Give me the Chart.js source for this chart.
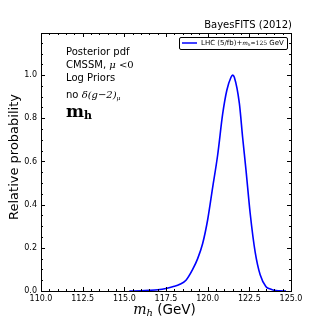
<!DOCTYPE html>
<html>
<head>
<meta charset="utf-8">
<script src="https://cdn.jsdelivr.net/npm/chart.js@4"></script>
<style>
  html, body { margin: 0; padding: 0; background: #fff; }
  #wrap { width: 324px; height: 324px; }
</style>
</head>
<body>
<div id="wrap"><canvas id="chart" width="324" height="324"></canvas></div>
<script>
// values
const massValues = [115.3, 116.0, 116.5, 117.0, 117.5, 118.0, 118.3, 118.7, 119.1, 119.4, 119.7, 120.0, 120.3, 120.6, 120.9, 121.15, 121.4, 121.5, 121.6, 121.9, 122.1, 122.3, 122.55, 122.85, 123.15, 123.5, 123.8, 124.0, 124.3, 124.7];
const probValues = [0, 0.001, 0.003, 0.006, 0.012, 0.022, 0.03, 0.05, 0.1, 0.15, 0.22, 0.33, 0.48, 0.63, 0.82, 0.93, 0.99, 1.0, 0.99, 0.87, 0.71, 0.56, 0.36, 0.18, 0.075, 0.02, 0.008, 0.003, 0.001, 0];
const xTicks = [110.0, 112.5, 115.0, 117.5, 120.0, 122.5, 125.0];
const yTicks = [0.0, 0.2, 0.4, 0.6, 0.8, 1.0];
const seriesLabel = 'LHC (5/fb)+m_h≃125 GeV';

const SANS = '"DejaVu Sans", sans-serif';
const SERIF = '"DejaVu Serif", serif';

// draw a run of [text, font, dy] pieces from x
function drawRuns(ctx, x, y, runs) {
    runs.forEach(r => {
        ctx.font = r[1];
        ctx.fillText(r[0], x, y + (r[2] || 0));
        x += ctx.measureText(r[0]).width;
    });
    return x;
}
function runsWidth(ctx, runs) {
    let w = 0;
    runs.forEach(r => { ctx.font = r[1]; w += ctx.measureText(r[0]).width; });
    return w;
}

const decor = {
    id: 'decor',
    afterDraw(chart) {
        const ctx = chart.ctx;
        const a = chart.chartArea;
        const xs = chart.scales.x, ys = chart.scales.y;
        ctx.save();
        ctx.strokeStyle = '#000';
        ctx.lineWidth = 1;
        ctx.strokeRect(Math.round(a.left) + 0.5, Math.round(a.top) + 0.5, Math.round(a.right - a.left), Math.round(a.bottom - a.top));

        // inward ticks on all four sides
        ctx.beginPath();
        for (let v = 110; v <= 125.001; v += 0.5) {
            const px = Math.round(xs.getPixelForValue(v)) + 0.5;
            const major = Math.abs(v / 2.5 - Math.round(v / 2.5)) < 1e-6;
            const len = major ? 4 : 2;
            ctx.moveTo(px, a.bottom); ctx.lineTo(px, a.bottom - len);
            ctx.moveTo(px, a.top); ctx.lineTo(px, a.top + len);
        }
        for (let i = 0; i * 0.05 <= ys.max; i++) {
            const v = i * 0.05;
            const py = Math.round(ys.getPixelForValue(v)) + 0.5;
            const len = i % 4 === 0 ? 4 : 2;
            ctx.moveTo(a.left, py); ctx.lineTo(a.left + len, py);
            ctx.moveTo(a.right, py); ctx.lineTo(a.right - len, py);
        }
        ctx.stroke();

        ctx.fillStyle = '#000';
        ctx.textBaseline = 'middle';

        // title
        ctx.textAlign = 'right';
        ctx.font = '10px ' + SANS;
        ctx.fillText('BayesFITS (2012)', a.right + 1, 25.5);

        // annotations
        ctx.textAlign = 'left';
        ctx.textBaseline = 'alphabetic';
        const tx = 66;
        ctx.font = '10px ' + SANS;
        ctx.fillText('Posterior pdf', tx, 54.5);
        drawRuns(ctx, tx, 67.5, [['CMSSM, ', '10px ' + SANS], ['μ', 'italic 10px ' + SERIF], [' <0', '10px ' + SERIF]]);
        ctx.font = '10px ' + SANS;
        ctx.fillText('Log Priors', tx, 80.5);
        drawRuns(ctx, tx, 97.5, [['no ', '10px ' + SANS], ['δ(g−2)', 'italic 10px ' + SERIF], ['μ', 'italic 6px ' + SERIF, 2]]);
        drawRuns(ctx, tx, 116.5, [['m', 'bold 17px ' + SERIF], ['h', 'bold 11px ' + SERIF, 2.5]]);

        // legend box
        ctx.textBaseline = 'middle';
        ctx.lineWidth = 1;
        ctx.strokeStyle = '#000';
        ctx.fillStyle = '#fff';
        ctx.beginPath();
        if (ctx.roundRect) ctx.roundRect(179.5, 37.5, 108, 12, 1.5); else ctx.rect(179.5, 37.5, 108, 12);
        ctx.fill();
        ctx.stroke();
        ctx.strokeStyle = '#0000ff';
        ctx.lineWidth = 1.5;
        ctx.beginPath();
        ctx.moveTo(182, 43); ctx.lineTo(197, 43);
        ctx.stroke();
        ctx.fillStyle = '#000';
        const parts = seriesLabel.split(/m_h|≃125/);
        drawRuns(ctx, 201, 43.5, [
            [parts[0], '7px ' + SANS],
            ['m', 'italic 6px ' + SERIF],
            ['h', 'italic 4px ' + SERIF, 1.5],
            ['≃125', '6px ' + SERIF],
            [parts[2], '7px ' + SANS]
        ]);

        // axis titles
        const xRuns = [['m', 'italic 14px ' + SERIF], ['h', 'italic 10px ' + SERIF, 3], [' (GeV)', '13.5px ' + SANS]];
        const xw = runsWidth(ctx, xRuns);
        drawRuns(ctx, 164.5 - xw / 2, 310, xRuns);

        ctx.translate(15, 157);
        ctx.rotate(-Math.PI / 2);
        ctx.textAlign = 'center';
        ctx.font = '13px ' + SANS;
        ctx.fillText('Relative probability', 0, 0);
        ctx.restore();
    }
};

const points = massValues.map((m, i) => ({ x: m, y: probValues[i] }));

new Chart(document.getElementById('chart').getContext('2d'), {
    type: 'line',
    data: {
        datasets: [{
            label: seriesLabel,
            data: points,
            borderColor: '#0000ff',
            borderWidth: 1.6,
            pointRadius: 0,
            fill: false,
            cubicInterpolationMode: 'monotone'
        }]
    },
    options: {
        responsive: false,
        animation: false,
        layout: { padding: { top: 33, right: 33, left: 0, bottom: 0 } },
        plugins: { legend: { display: false }, tooltip: { enabled: false } },
        scales: {
            x: {
                type: 'linear',
                min: 110,
                max: 125,
                afterFit: s => { s.height = 33; },
                afterBuildTicks: s => { s.ticks = xTicks.map(v => ({ value: v })); },
                ticks: {
                    font: { family: 'DejaVu Sans', size: 8 },
                    color: '#000',
                    padding: 3,
                    maxRotation: 0,
                    autoSkip: false,
                    callback: v => v.toFixed(1)
                },
                grid: { display: false, drawTicks: false },
                border: { display: false }
            },
            y: {
                min: 0,
                max: 1.195,
                afterFit: s => { s.width = 41; },
                afterBuildTicks: s => { s.ticks = yTicks.map(v => ({ value: v })); },
                ticks: {
                    font: { family: 'DejaVu Sans', size: 8 },
                    color: '#000',
                    padding: 4,
                    callback: v => v.toFixed(1)
                },
                grid: { display: false, drawTicks: false },
                border: { display: false }
            }
        }
    },
    plugins: [decor]
});
</script>
</body>
</html>
